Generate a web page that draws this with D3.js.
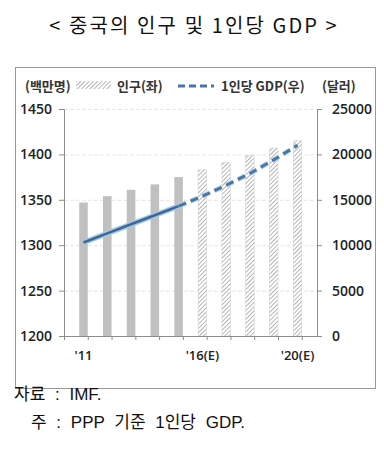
<!DOCTYPE html>
<html><head><meta charset="utf-8">
<script src="https://cdn.jsdelivr.net/npm/d3@7"></script>
<style>body{margin:0;background:#fff;}svg{display:block;}</style>
</head><body>
<svg id="c" width="384" height="450"></svg>
<script>
const years = ["'11","'12","'13","'14","'15","'16(E)","'17(E)","'18(E)","'19(E)","'20(E)"];
const estimated = [false,false,false,false,false,true,true,true,true,true];
const population = [1347,1354,1361,1367,1375,1383,1391,1399,1407,1415];
const gdpPerCapita = [10300,11300,12300,13300,14300,15400,16600,17900,19400,21000];
const shownXLabels = ["'11","'16(E)","'20(E)"];
const leftTicks = [1200,1250,1300,1350,1400,1450];
const rightTicks = [0,5000,10000,15000,20000,25000];

const svg = d3.select("#c");
const font = "'Noto Sans CJK KR','Noto Sans',sans-serif";

const defs = svg.append("defs");
const pat = defs.append("pattern").attr("id","hatch").attr("patternUnits","userSpaceOnUse")
  .attr("width",3).attr("height",3).attr("patternTransform","rotate(45)");
pat.append("rect").attr("width",3).attr("height",3).attr("fill","#fff");
pat.append("line").attr("x1",0).attr("y1",0).attr("x2",0).attr("y2",3).attr("stroke","#7a7a7a").attr("stroke-width",1.1);

// Title
svg.append("text").attr("x",194).attr("y",33).attr("text-anchor","middle")
  .attr("font-family",font).attr("font-size",20).attr("letter-spacing",2.1).attr("fill","#111")
  .text("< 중국의 인구 및 1인당 GDP >");

// Border
svg.append("rect").attr("x",15.5).attr("y",67.5).attr("width",360).attr("height",321)
  .attr("fill","#fff").attr("stroke","#9a9a9a");

const x0 = 64, x1 = 317, yTop = 109, yBot = 336;
const x = d3.scaleBand().domain(years).range([x0,x1]).padding(0.64);
const yL = d3.scaleLinear().domain([1200,1450]).range([yBot,yTop]);
const yR = d3.scaleLinear().domain([0,25000]).range([yBot,yTop]);

// gridlines
svg.append("g").selectAll("line").data(leftTicks.slice(1)).join("line")
  .attr("x1",x0).attr("x2",x1).attr("y1",d=>yL(d)+0.5).attr("y2",d=>yL(d)+0.5)
  .attr("stroke","#e6e6e6").attr("stroke-dasharray","4,2");

// bars
svg.append("g").selectAll("rect").data(years).join("rect")
  .attr("x",d=>x(d)).attr("width",x.bandwidth())
  .attr("y",(d,i)=>yL(population[i])).attr("height",(d,i)=>yBot-yL(population[i]))
  .attr("fill",(d,i)=>estimated[i]?"url(#hatch)":"#c0c0c0")
  .attr("stroke",(d,i)=>estimated[i]?"#d0d0d0":"none").attr("stroke-width",0.5);

// axes
const fmt = d3.format("d");
const axL = svg.append("g").attr("transform",`translate(${x0},0)`)
  .call(d3.axisLeft(yL).tickValues(leftTicks).tickFormat(fmt).tickSize(5).tickPadding(7));
const axR = svg.append("g").attr("transform",`translate(${x1},0)`)
  .call(d3.axisRight(yR).tickValues(rightTicks).tickFormat(fmt).tickSize(5).tickPadding(10));
const axB = svg.append("g").attr("transform",`translate(0,${yBot})`)
  .call(d3.axisBottom(x).tickSize(0).tickPadding(15).tickFormat(d=>shownXLabels.includes(d)?d:""));
[axL,axR,axB].forEach(a=>{
  a.select(".domain").attr("stroke","#8c8c8c");
  a.selectAll(".tick line").attr("stroke","#8c8c8c");
  a.selectAll("text").attr("font-family","'Open Sans',sans-serif").attr("font-weight",600)
    .attr("font-size",14).attr("fill","#222");
});
axB.selectAll("text").attr("font-size",13);
// boundary ticks on x axis
const step = x.step();
svg.append("g").selectAll("line").data(d3.range(years.length+1)).join("line")
  .attr("x1",i=>x0 + i*step + 0.5).attr("x2",i=>x0 + i*step + 0.5)
  .attr("y1",yBot).attr("y2",yBot+4).attr("stroke","#8c8c8c");

// line
const pts = years.map((d,i)=>[x(d)+x.bandwidth()/2, yR(gdpPerCapita[i])]);
const line = d3.line();
const solidPts = pts.slice(0,5), dashPts = pts.slice(4);
svg.append("path").attr("d",line(solidPts)).attr("fill","none").attr("stroke","#a8c8e8").attr("stroke-width",5.5);
svg.append("path").attr("d",line(solidPts)).attr("fill","none").attr("stroke","#3e6894").attr("stroke-width",2.6);
svg.append("path").attr("d",line(dashPts)).attr("fill","none").attr("stroke","#b9d3ec").attr("stroke-width",5)
  .attr("stroke-dasharray","8,5");
svg.append("path").attr("d",line(dashPts)).attr("fill","none").attr("stroke","#4a76a3").attr("stroke-width",3)
  .attr("stroke-dasharray","8,5");

// legend
const lg = svg.append("g").attr("font-family",font).attr("font-size",13).attr("font-weight",700).attr("fill","#333");
lg.append("text").attr("x",25).attr("y",91).text("(백만명)");
lg.append("rect").attr("x",76).attr("y",81).attr("width",35).attr("height",8).attr("fill","url(#hatch)");
lg.append("text").attr("x",117).attr("y",91).text("인구(좌)");
lg.append("line").attr("x1",178).attr("x2",214).attr("y1",86).attr("y2",86)
  .attr("stroke","#4a76a3").attr("stroke-width",3).attr("stroke-dasharray","7,4");
lg.append("text").attr("x",221).attr("y",91).text("1인당 GDP(우)");
lg.append("text").attr("x",322).attr("y",91).text("(달러)");

// footer
const ft = svg.append("g").attr("font-family","'Liberation Sans','Noto Sans CJK KR',sans-serif")
  .attr("font-size",17).attr("word-spacing",5).attr("fill","#111");
ft.append("text").attr("x",14).attr("y",400).text("자료 : IMF.");
ft.append("text").attr("x",31).attr("y",428).text("주 : PPP 기준 1인당 GDP.");
</script>
</body></html>
